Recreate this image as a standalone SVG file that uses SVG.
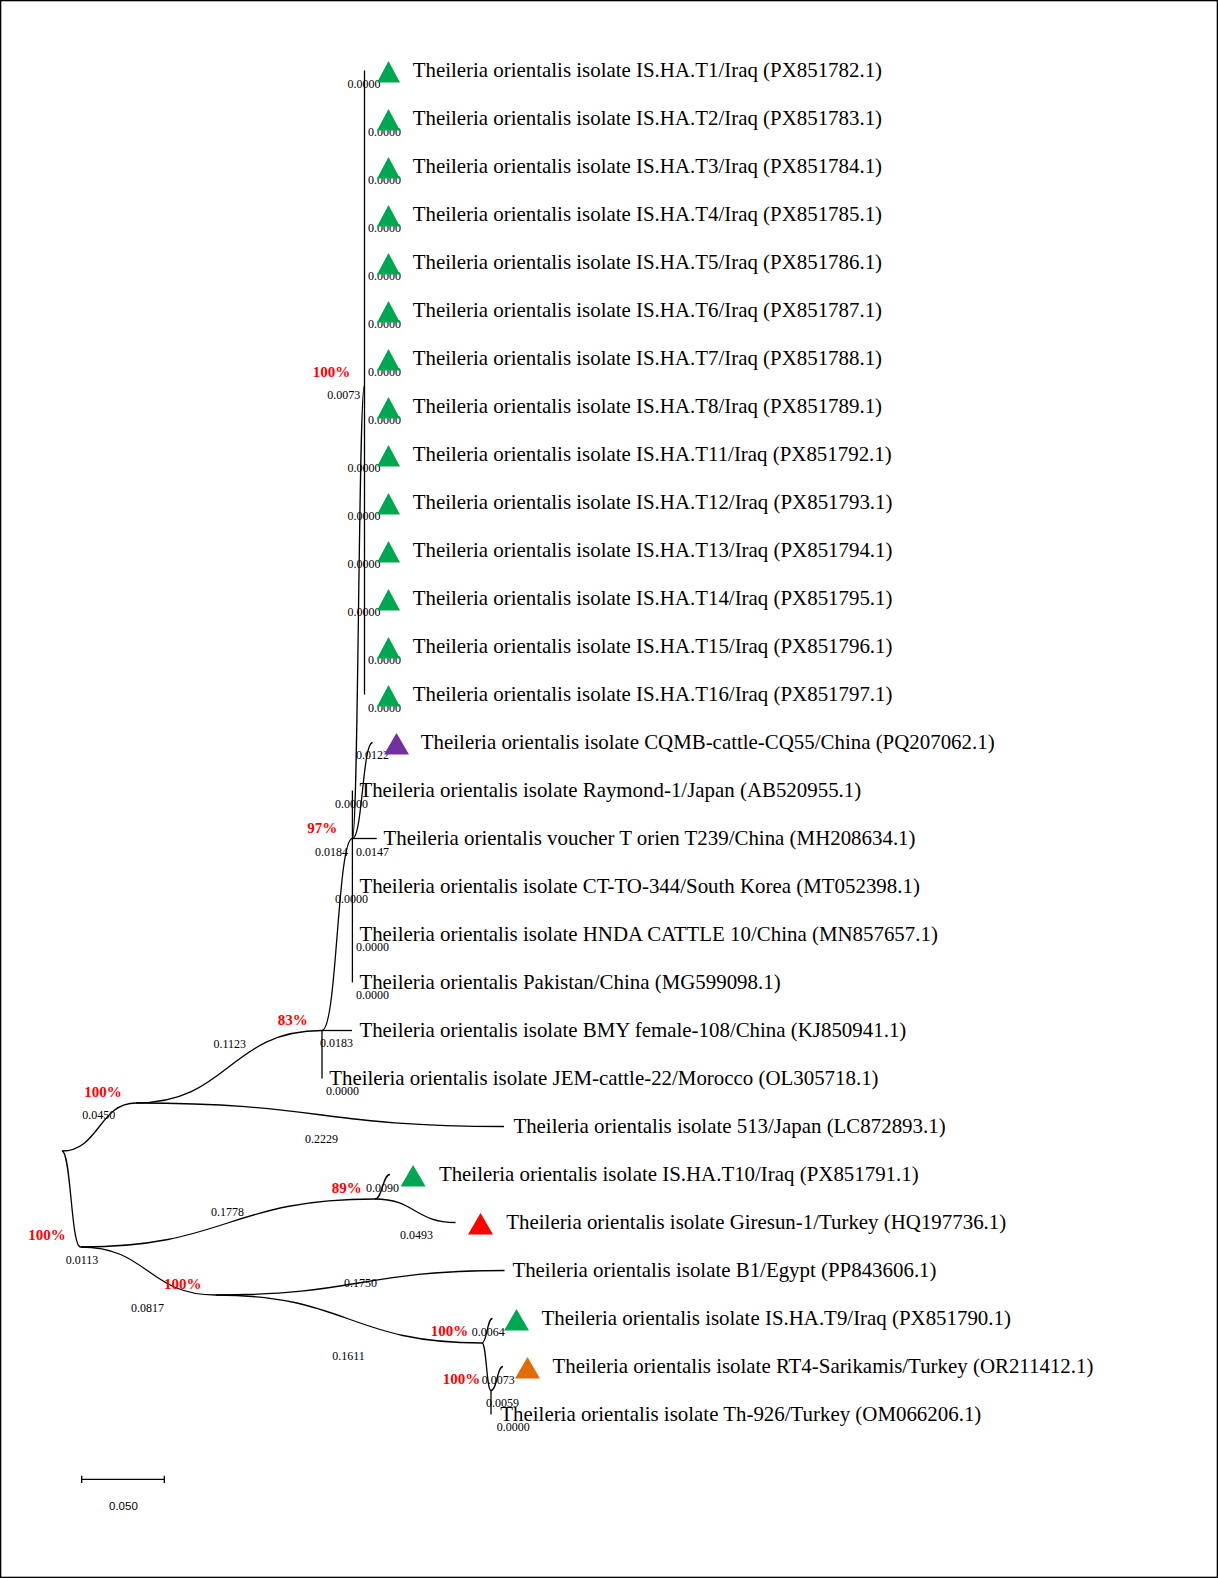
<svg xmlns="http://www.w3.org/2000/svg" width="1218" height="1578" viewBox="0 0 1218 1578">
<style>
.bg{fill:#fff;stroke:#000;stroke-width:1.3}
.br{fill:none;stroke:#000;stroke-width:1.3}
.tx{font-family:"Liberation Serif","Times New Roman",serif;font-size:20.9px;fill:#000}
.bl{font-family:"Liberation Serif","Times New Roman",serif;font-size:12px;fill:#000}
.bs{font-family:"Liberation Serif","Times New Roman",serif;font-size:15px;font-weight:bold;fill:#ff0000}
.sc{font-family:"Liberation Sans",Arial,sans-serif;font-size:11.5px;fill:#000}
.g{fill:#00a651}.p{fill:#7030a0}.r{fill:#ff0000}.o{fill:#e36c09}
</style>
<defs>
<polygon id="tri" points="0,12 23,12 11.5,-9.5"/>
<polygon id="triw" points="0,12 25,12 12.5,-9.5"/>
</defs>
<rect class="bg" x="0.65" y="0.65" width="1216.7" height="1576.7"/>

<g id="connectors">
<path class="br" d="M62,1151 C99,1151 99,1103 136,1103"/>
<path class="br" d="M62,1151 C71,1151 71,1247 80.5,1247"/>
<path class="br" d="M136,1103 C229,1103 229,1030.5 322,1030.5"/>
<path class="br" d="M136,1103 C320,1103 320,1126.5 504,1126.5"/>
<path class="br" d="M322,1030.5 L352,1030.5"/>
<path class="br" d="M322,1030.5 L322,1078.5"/>
<path class="br" d="M322,1030.5 C337.2,1030.5 337.2,838.5 352.4,838.5"/>
<path class="br" d="M352.4,838.5 L376.7,838.5"/>
<path class="br" d="M352.4,790.5 L352.4,982.5"/>
<path class="br" d="M352.4,838.5 C362.5,838.5 362.5,742.5 372.6,742.5"/>
<path class="br" d="M352.4,838.5 C358.5,838.5 358.5,385 364.5,385"/>
<path class="br" d="M364.5,70.5 L364.5,694.5"/>
<path class="br" d="M80.5,1247 C227.7,1247 227.7,1199 375,1199"/>
<path class="br" d="M375,1199 C382.5,1199 382.5,1174.5 390,1174.5"/>
<path class="br" d="M375,1199 C415,1199 415,1222.5 455.5,1222.5"/>
<path class="br" d="M80.5,1247 C148,1247 148,1295 215.5,1295"/>
<path class="br" d="M215.5,1295 C360,1295 360,1270.5 504.5,1270.5"/>
<path class="br" d="M215.5,1295 C348.7,1295 348.7,1343 482,1343"/>
<path class="br" d="M482,1343 C487,1343 487,1318.5 492.5,1318.5"/>
<path class="br" d="M482,1343 C486.5,1343 486.5,1390.5 491,1390.5"/>
<path class="br" d="M491,1390.5 C497,1390.5 497,1366.5 503,1366.5"/>
<path class="br" d="M491,1390.5 L491,1414.5"/>
</g>

<g id="branch-lengths">
<text class="bl" x="347.5" y="87.5">0.0000</text>
<text class="bl" x="368" y="135.5">0.0000</text>
<text class="bl" x="368" y="183.5">0.0000</text>
<text class="bl" x="368" y="231.5">0.0000</text>
<text class="bl" x="368" y="279.5">0.0000</text>
<text class="bl" x="368" y="327.5">0.0000</text>
<text class="bl" x="368" y="375.5">0.0000</text>
<text class="bl" x="368" y="423.5">0.0000</text>
<text class="bl" x="347.5" y="471.5">0.0000</text>
<text class="bl" x="347.5" y="519.5">0.0000</text>
<text class="bl" x="347.5" y="567.5">0.0000</text>
<text class="bl" x="347.5" y="615.5">0.0000</text>
<text class="bl" x="368" y="663.5">0.0000</text>
<text class="bl" x="368" y="711.5">0.0000</text>
<text class="bl" x="327.3" y="399.3">0.0073</text>
<text class="bl" x="356" y="759.3">0.0122</text>
<text class="bl" x="335" y="807.7">0.0000</text>
<text class="bl" x="315" y="855.7">0.0184</text>
<text class="bl" x="356" y="855.7">0.0147</text>
<text class="bl" x="335" y="903.3">0.0000</text>
<text class="bl" x="356" y="951">0.0000</text>
<text class="bl" x="356" y="999.3">0.0000</text>
<text class="bl" x="320" y="1046.7">0.0183</text>
<text class="bl" x="326" y="1095">0.0000</text>
<text class="bl" x="213.4" y="1047.8">0.1123</text>
<text class="bl" x="82.3" y="1119.3">0.0450</text>
<text class="bl" x="305" y="1143.3">0.2229</text>
<text class="bl" x="211" y="1215.7">0.1778</text>
<text class="bl" x="65.7" y="1264">0.0113</text>
<text class="bl" x="131" y="1311.7">0.0817</text>
<text class="bl" x="366" y="1191.7">0.0090</text>
<text class="bl" x="400" y="1239.3">0.0493</text>
<text class="bl" x="344" y="1287.3">0.1750</text>
<text class="bl" x="332.2" y="1360">0.1611</text>
<text class="bl" x="471.7" y="1336">0.0064</text>
<text class="bl" x="481.7" y="1384">0.0073</text>
<text class="bl" x="486" y="1407.3">0.0059</text>
<text class="bl" x="496.7" y="1430.7">0.0000</text>
</g>

<g id="bootstrap">
<text class="bs" x="312.7" y="376.7">100%</text>
<text class="bs" x="307.3" y="832.7">97%</text>
<text class="bs" x="277.8" y="1025">83%</text>
<text class="bs" x="84.3" y="1096.7">100%</text>
<text class="bs" x="28.2" y="1240">100%</text>
<text class="bs" x="164" y="1289.3">100%</text>
<text class="bs" x="331.7" y="1192.7">89%</text>
<text class="bs" x="430.7" y="1336">100%</text>
<text class="bs" x="442.7" y="1384">100%</text>
</g>

<g id="tip-T1"><use href="#tri" class="g" x="377" y="70.5"/><text class="tx" x="412.7" y="76.5">Theileria orientalis isolate IS.HA.T1/Iraq (PX851782.1)</text></g>
<g id="tip-T2"><use href="#tri" class="g" x="377" y="118.5"/><text class="tx" x="412.7" y="124.5">Theileria orientalis isolate IS.HA.T2/Iraq (PX851783.1)</text></g>
<g id="tip-T3"><use href="#tri" class="g" x="377" y="166.5"/><text class="tx" x="412.7" y="172.5">Theileria orientalis isolate IS.HA.T3/Iraq (PX851784.1)</text></g>
<g id="tip-T4"><use href="#tri" class="g" x="377" y="214.5"/><text class="tx" x="412.7" y="220.5">Theileria orientalis isolate IS.HA.T4/Iraq (PX851785.1)</text></g>
<g id="tip-T5"><use href="#tri" class="g" x="377" y="262.5"/><text class="tx" x="412.7" y="268.5">Theileria orientalis isolate IS.HA.T5/Iraq (PX851786.1)</text></g>
<g id="tip-T6"><use href="#tri" class="g" x="377" y="310.5"/><text class="tx" x="412.7" y="316.5">Theileria orientalis isolate IS.HA.T6/Iraq (PX851787.1)</text></g>
<g id="tip-T7"><use href="#tri" class="g" x="377" y="358.5"/><text class="tx" x="412.7" y="364.5">Theileria orientalis isolate IS.HA.T7/Iraq (PX851788.1)</text></g>
<g id="tip-T8"><use href="#tri" class="g" x="377" y="406.5"/><text class="tx" x="412.7" y="412.5">Theileria orientalis isolate IS.HA.T8/Iraq (PX851789.1)</text></g>
<g id="tip-T11"><use href="#tri" class="g" x="377" y="454.5"/><text class="tx" x="412.7" y="460.5">Theileria orientalis isolate IS.HA.T11/Iraq (PX851792.1)</text></g>
<g id="tip-T12"><use href="#tri" class="g" x="377" y="502.5"/><text class="tx" x="412.7" y="508.5">Theileria orientalis isolate IS.HA.T12/Iraq (PX851793.1)</text></g>
<g id="tip-T13"><use href="#tri" class="g" x="377" y="550.5"/><text class="tx" x="412.7" y="556.5">Theileria orientalis isolate IS.HA.T13/Iraq (PX851794.1)</text></g>
<g id="tip-T14"><use href="#tri" class="g" x="377" y="598.5"/><text class="tx" x="412.7" y="604.5">Theileria orientalis isolate IS.HA.T14/Iraq (PX851795.1)</text></g>
<g id="tip-T15"><use href="#tri" class="g" x="377" y="646.5"/><text class="tx" x="412.7" y="652.5">Theileria orientalis isolate IS.HA.T15/Iraq (PX851796.1)</text></g>
<g id="tip-T16"><use href="#tri" class="g" x="377" y="694.5"/><text class="tx" x="412.7" y="700.5">Theileria orientalis isolate IS.HA.T16/Iraq (PX851797.1)</text></g>
<g id="tip-CQ55"><use href="#triw" class="p" x="384" y="742.5"/><text class="tx" x="420.8" y="748.5">Theileria orientalis isolate CQMB-cattle-CQ55/China (PQ207062.1)</text></g>
<g id="tip-Raymond"><text class="tx" x="359.4" y="796.5">Theileria orientalis isolate Raymond-1/Japan (AB520955.1)</text></g>
<g id="tip-T239"><text class="tx" x="383.5" y="844.5">Theileria orientalis voucher T orien T239/China (MH208634.1)</text></g>
<g id="tip-CT"><text class="tx" x="359.4" y="892.5">Theileria orientalis isolate CT-TO-344/South Korea (MT052398.1)</text></g>
<g id="tip-HNDA"><text class="tx" x="359.4" y="940.5">Theileria orientalis isolate HNDA CATTLE 10/China (MN857657.1)</text></g>
<g id="tip-Pakistan"><text class="tx" x="359.4" y="988.5">Theileria orientalis Pakistan/China (MG599098.1)</text></g>
<g id="tip-BMY"><text class="tx" x="359.4" y="1036.5">Theileria orientalis isolate BMY female-108/China (KJ850941.1)</text></g>
<g id="tip-JEM"><text class="tx" x="329.2" y="1084.5">Theileria orientalis isolate JEM-cattle-22/Morocco (OL305718.1)</text></g>
<g id="tip-513"><text class="tx" x="513.4" y="1132.5">Theileria orientalis isolate 513/Japan (LC872893.1)</text></g>
<g id="tip-T10"><use href="#triw" class="g" x="400.6" y="1174.5"/><text class="tx" x="438.9" y="1180.5">Theileria orientalis isolate IS.HA.T10/Iraq (PX851791.1)</text></g>
<g id="tip-Giresun"><use href="#triw" class="r" x="468" y="1222.5"/><text class="tx" x="506.3" y="1228.5">Theileria orientalis isolate Giresun-1/Turkey (HQ197736.1)</text></g>
<g id="tip-B1"><text class="tx" x="512.4" y="1276.5">Theileria orientalis isolate B1/Egypt (PP843606.1)</text></g>
<g id="tip-T9"><use href="#triw" class="g" x="504" y="1318.5"/><text class="tx" x="541.6" y="1324.5">Theileria orientalis isolate IS.HA.T9/Iraq (PX851790.1)</text></g>
<g id="tip-RT4"><use href="#triw" class="o" x="515" y="1366.5"/><text class="tx" x="552.6" y="1372.5">Theileria orientalis isolate RT4-Sarikamis/Turkey (OR211412.1)</text></g>
<g id="tip-Th926"><text class="tx" x="500.3" y="1420.5">Theileria orientalis isolate Th-926/Turkey (OM066206.1)</text></g>

<g id="scale-bar">
<path class="br" d="M81.7,1479.3 H164.3 M81.7,1475.7 V1482.9 M164.3,1475.7 V1482.9"/>
<text class="sc" x="109" y="1510">0.050</text>
</g>
</svg>
